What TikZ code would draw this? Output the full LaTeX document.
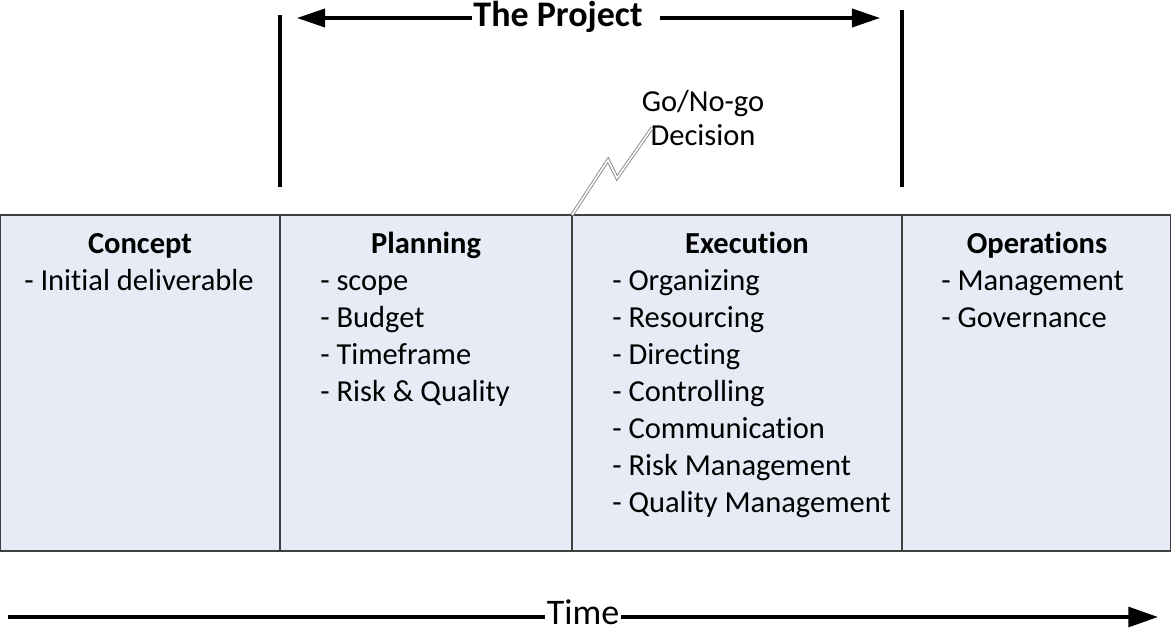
\documentclass[tikz,border=0pt]{standalone}
\usepackage{fontspec}
\setmainfont{Carlito}[Ligatures={NoCommon,NoRare}]
\usetikzlibrary{arrows.meta}
\definecolor{phasefill}{HTML}{E6EBF5}
\definecolor{phaseline}{HTML}{404040}
\tikzset{
    phase/.style={draw=phaseline,fill=phasefill,line width=1pt},
    title/.style={font=\fontsize{21.7}{26}\selectfont\bfseries,anchor=base,inner sep=0},
    item/.style={font=\fontsize{21.7}{26}\selectfont,anchor=base west,inner sep=0},
    bigtext/.style={font=\fontsize{25.6}{30}\selectfont,fill=white,inner xsep=1pt,inner ysep=0pt},
    bigarrow/.style={line width=2.2pt,-{Triangle[length=20pt,width=13pt]}},
    timearrow/.style={line width=2.5pt,-{Triangle[length=21pt,width=14pt]}},
    bar/.style={line width=2.2pt},
    bolt/.style={draw=gray,double=white,double distance=1.2pt,line width=0.6pt},
}
\begin{document}
\begin{tikzpicture}[x=0.025cm,y=-0.025cm]
\useasboundingbox (0,0) rectangle (1171,630);
% phases
\foreach \xa/\xb in {0.5/280,280/572,572/902,902/1170.5}{
    \draw[phase] (\xa,215) rectangle (\xb,551);
}
\node[title] (concept) at (140,253) {Concept};
\node[title] (planning) at (426,253) {Planning};
\node[title] (execution) at (747,253) {Execution};
\node[title] (operations) at (1037,253) {Operations};
\foreach \t [count=\i] in {Initial deliverable}{
    \node[item] (concept\i) at (24,253+37*\i) {- \t};
}
\foreach \t [count=\i] in {scope,Budget,Timeframe,Risk \& Quality}{
    \node[item] (planning\i) at (320,253+37*\i) {- \t};
}
\foreach \t [count=\i] in {Organizing,Resourcing,Directing,Controlling,Communication,Risk Management,Quality Management}{
    \node[item] (execution\i) at (612,253+37*\i) {- \t};
}
\foreach \t [count=\i] in {Management,Governance}{
    \node[item] (operations\i) at (941,253+37*\i) {- \t};
}
% the project
\draw[bar] (280,15) -- (280,187);
\draw[bar] (902,10) -- (902,187);
\node[bigtext,font=\fontsize{25.6}{30}\selectfont\bfseries,anchor=base] (project) at (558,27) {The Project};
\coordinate (projL) at (297,18);
\coordinate (projR0) at (660,18);
\coordinate (projR) at (880,18);
\draw[bigarrow] (projL -| project.west) -- (projL);
\draw[bigarrow] (projR0) -- (projR);
% decision
\node[font=\fontsize{21.7}{24}\selectfont,align=center,inner sep=0] (decision) at (703,118) {Go/No-go\\Decision};
\coordinate (gate) at (572,215);
\coordinate (tip) at (652,128);
\draw[bolt] (gate) -- ++(36,-55) -- ++(9,18) -- (tip);
% time
\coordinate (t0) at (8,617);
\coordinate (t1) at (1158,617);
\draw[timearrow] (t0) -- (t1);
\node[bigtext,anchor=base] (time) at (583,624) {Time};
\end{tikzpicture}
\end{document}
